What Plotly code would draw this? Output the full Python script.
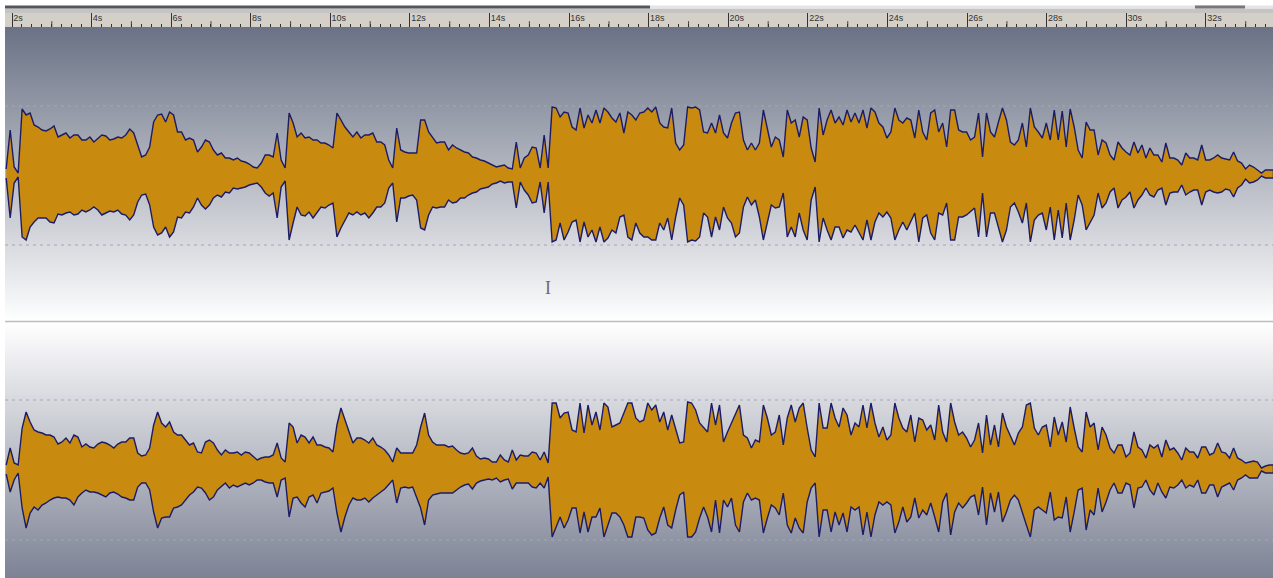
import numpy as np
import plotly.graph_objects as go

W, H = 1273, 578

# Waveform envelopes (level units, full scale = 147)
ch1_top = [
 5,44,7,1,65,59,61,49,47,44,43,45,48,37,39,41,36,39,39,34,34,37,32,36,39,38,34,35,37,36,39,45,41,29,17,19,27,52,59,60,
 52,62,59,42,42,34,36,34,22,27,34,32,24,19,21,16,16,14,16,13,12,10,7,6,11,19,19,17,41,14,6,61,51,37,41,36,37,34,34,
 31,31,29,26,61,54,47,42,37,42,36,39,39,41,32,32,29,14,6,46,24,22,21,21,21,54,54,42,37,31,32,32,24,29,26,24,22,21,17,16,
 14,13,11,9,7,8,9,6,5,32,6,16,19,27,26,6,39,6,67,66,57,62,61,47,44,66,46,59,51,64,51,66,62,56,52,61,41,62,59,54,
 61,62,66,62,67,51,47,46,66,31,24,29,67,66,67,64,42,41,51,41,59,41,36,51,61,62,34,24,31,24,31,64,44,27,37,34,17,64,51,54,
 37,57,54,26,12,66,39,54,64,51,57,49,64,52,61,51,64,46,66,62,51,47,36,42,66,54,51,56,54,36,64,42,34,61,64,42,51,27,64,64,
 44,42,42,34,37,61,17,61,42,37,52,66,54,32,29,34,51,27,66,47,42,36,51,34,64,34,63,27,65,47,24,16,52,44,44,19,34,31,19,14,
 32,26,22,19,32,21,29,16,26,19,19,12,31,16,16,14,9,21,16,16,14,29,14,14,16,19,16,15,14,22,13,11,5,9,7,4,1,4,4,4,
]
ch1_bottom = [
 4,44,9,3,63,66,53,48,44,44,44,48,49,40,41,39,38,41,40,36,38,36,33,36,41,39,37,38,36,40,41,46,41,28,21,20,31,53,61,59,
 53,63,58,43,44,38,39,33,24,31,35,31,24,21,23,18,19,14,15,14,13,11,10,9,13,19,22,19,44,13,7,66,49,33,41,42,38,44,39,
 33,34,31,29,63,54,46,39,41,38,41,39,44,39,33,33,29,14,9,48,24,24,22,21,26,54,56,41,33,34,33,33,26,29,28,24,24,21,19,18,
 15,14,13,10,9,7,9,8,8,34,8,16,21,29,28,8,39,8,68,66,49,66,58,48,46,68,48,63,56,68,53,68,64,56,59,43,41,63,66,49,
 59,63,63,66,66,49,56,44,66,43,24,31,68,66,67,63,39,43,63,43,56,33,44,49,63,59,33,23,31,26,43,66,49,31,34,33,19,63,53,63,
 39,56,66,26,13,68,44,56,66,53,53,64,56,58,51,59,66,46,66,48,39,43,38,44,66,56,48,56,48,39,68,44,41,59,66,39,41,29,66,66,
 43,43,41,38,34,63,19,63,39,39,54,68,56,33,29,38,49,29,68,46,41,39,56,33,66,36,64,29,66,46,21,31,56,48,41,19,34,29,18,14,
 34,26,23,18,34,26,21,14,21,23,16,14,31,19,18,18,11,21,18,16,16,31,18,16,18,19,18,15,16,23,14,11,5,9,8,6,2,4,4,4,
]
ch2_top = [
 5,22,7,5,42,58,48,40,38,37,35,35,33,26,28,32,27,35,33,23,26,23,22,26,28,27,25,22,26,28,28,32,32,17,14,15,22,45,58,47,
 43,48,38,35,35,30,25,27,18,17,28,30,27,20,15,20,17,17,18,15,18,17,13,10,12,13,13,15,27,12,8,47,43,27,35,33,27,33,25,
 25,23,22,18,45,62,50,38,27,32,32,30,27,32,25,23,20,15,8,22,17,17,17,17,25,43,57,35,28,25,25,25,23,24,20,17,16,17,22,14,
 11,12,11,8,8,15,10,8,20,10,15,14,14,18,17,10,18,7,67,67,52,57,58,40,38,67,37,65,45,58,40,67,63,43,45,47,57,67,67,52,
 48,50,67,60,65,48,58,40,55,42,27,28,68,67,60,47,43,38,67,45,65,28,38,47,57,65,35,32,22,30,28,65,52,35,38,55,25,52,65,48,
 62,67,42,20,13,67,42,42,67,52,43,62,55,35,47,43,65,42,67,47,33,43,30,35,67,52,42,38,55,28,52,50,40,45,30,65,38,28,67,48,
 35,38,32,23,30,47,17,55,25,45,23,57,43,33,25,37,43,65,67,42,35,43,45,23,53,35,48,28,63,42,23,18,58,43,47,20,43,35,22,17,
 25,25,13,17,38,23,20,12,25,22,25,13,30,20,22,17,10,22,18,18,12,23,23,15,17,27,18,17,12,22,12,10,7,8,9,8,2,4,5,5,
]
ch2_bottom = [
 4,22,10,3,38,58,43,37,40,35,33,30,28,27,28,28,30,35,27,23,20,22,22,23,25,27,23,22,24,27,28,30,30,17,13,13,20,42,58,48,
 47,47,38,37,35,30,25,22,17,18,23,30,27,20,17,13,18,15,17,15,13,15,13,10,10,12,13,13,27,10,8,47,28,27,33,37,27,25,33,
 23,22,21,18,43,62,47,35,28,30,30,28,32,28,25,22,19,15,10,33,18,17,18,17,27,38,55,30,25,24,23,23,23,23,20,17,15,14,19,13,
 11,10,9,10,8,12,10,9,19,13,13,13,13,17,18,13,18,7,67,58,47,58,50,38,38,63,42,62,47,47,38,67,55,43,43,47,55,67,67,47,
 47,48,60,65,63,48,37,55,58,40,25,22,67,67,62,48,37,47,62,30,63,30,37,28,55,62,32,23,30,28,30,63,48,35,38,45,23,55,63,48,
 58,63,32,18,13,67,40,40,62,42,55,43,62,37,40,37,65,42,67,45,32,35,32,35,63,52,37,52,47,28,48,40,45,33,47,62,32,23,65,42,
 33,38,33,27,25,45,17,55,23,42,22,52,42,30,25,30,42,55,67,40,37,40,43,22,50,47,48,27,62,42,20,18,60,40,45,18,42,32,20,13,
 23,23,13,15,38,18,17,10,20,25,13,22,28,17,18,15,10,18,15,17,10,23,23,15,15,27,17,15,13,20,10,8,5,8,8,8,1,3,3,3,
]
assert all(len(a) == 319 for a in (ch1_top, ch1_bottom, ch2_top, ch2_bottom))

times = np.linspace(1.854, 33.696, 319)

ruler_ticks = [2,4,6,8,10,12,14,16,18,20,22,24,26,28,30,32]
ruler_labels = ["2s","4s","6s","8s","10s","12s","14s","16s","18s","20s","22s","24s","26s","28s","30s","32s"]
mid_ticks = [3,5,7,9,11,13,15,17,19,21,23,25,27,29,31,33]
ch1_dash_levels = [68, -71]
ch2_dash_levels = [70, -70]
cursor_time, cursor_level = 15.47, -114

X_RANGE = [1.824, 33.685]
FILL = "#C98A10"
EDGE = "#1C1C66"
DARK = "#6A7285"

def py(px):
    return 1 - px / H

fig = go.Figure()

def gradient(xa, ya, levels, scale):
    fig.add_trace(go.Heatmap(x=X_RANGE, y=levels, z=[[0, 0], [1, 1]], zmin=0, zmax=1,
                             colorscale=scale, showscale=False, zsmooth="best",
                             hoverinfo="skip", xaxis=xa, yaxis=ya))

def dashes(xa, ya, levels):
    for lv in levels:
        fig.add_trace(go.Scatter(x=X_RANGE, y=[lv, lv], mode="lines", xaxis=xa, yaxis=ya,
                                 line=dict(color="#A4A7B0", width=1, dash="3px,4px"),
                                 hoverinfo="skip"))

def wave(xa, ya, top, bottom):
    xs = np.concatenate([times, times[::-1]])
    ys = np.concatenate([np.array(top), -np.array(bottom)[::-1]])
    fig.add_trace(go.Scatter(x=xs, y=ys, mode="lines", fill="toself", fillcolor=FILL,
                             line=dict(color=EDGE, width=1.4), xaxis=xa, yaxis=ya,
                             hoverinfo="skip"))

gradient("x", "y", [-147, 147], [[0, "#FFFFFF"], [1, DARK]])
gradient("x2", "y2", [148, -108], [[0, "#FFFFFF"], [1, "#7C8294"]])
dashes("x", "y", ch1_dash_levels)
dashes("x2", "y2", ch2_dash_levels)
wave("x", "y", ch1_top, ch1_bottom)
wave("x2", "y2", ch2_top, ch2_bottom)

# ruler
mid_x, mid_y = [], []
for t in mid_ticks:
    mid_x += [t, t, None]
    mid_y += [0, 0.42, None]
fig.add_trace(go.Scatter(x=mid_x, y=mid_y, mode="lines", line=dict(color="#444444", width=1),
                         xaxis="x3", yaxis="y3", hoverinfo="skip"))
fig.add_trace(go.Scatter(x=[t + 0.03 for t in ruler_ticks], y=[0.62] * len(ruler_ticks),
                         text=ruler_labels, mode="text", textposition="middle right",
                         textfont=dict(family="Liberation Sans", size=9, color="#333333"),
                         xaxis="x3", yaxis="y3", hoverinfo="skip"))

fig.add_annotation(x=cursor_time, y=cursor_level, xref="x", yref="y", text="I", showarrow=False,
                   font=dict(family="Liberation Serif", size=18, color="#6A6A6A"))

x_common = dict(range=X_RANGE, domain=[5 / W, 1], showgrid=False, zeroline=False, showline=False)
fig.update_layout(
    width=W, height=H, margin=dict(l=0, r=0, t=0, b=0), autosize=False,
    paper_bgcolor="#FFFFFF", plot_bgcolor="#D4D0C8", showlegend=False,
    xaxis=dict(x_common, anchor="y", showticklabels=False, ticks=""),
    yaxis=dict(domain=[py(321), py(27)], range=[-147, 147], showgrid=False, zeroline=False,
               showticklabels=False, ticks="", anchor="x"),
    xaxis2=dict(x_common, anchor="y2", showticklabels=False, ticks=""),
    yaxis2=dict(domain=[0, py(322)], range=[-108, 148], showgrid=False, zeroline=False,
                showticklabels=False, ticks="", anchor="x2"),
    xaxis3=dict(x_common, anchor="y3", showticklabels=False, ticks="inside",
                tick0=2, dtick=2, ticklen=14, tickcolor="#333333", tickwidth=1,
                minor=dict(ticks="inside", dtick=0.25, ticklen=3, tickcolor="#333333", tickwidth=1)),
    yaxis3=dict(domain=[py(27), py(13)], range=[0, 1], showgrid=False, zeroline=False,
                showticklabels=False, ticks="", anchor="x3"),
    shapes=[
        dict(type="rect", xref="paper", yref="paper", x0=5 / W, x1=1, y0=py(13), y1=py(8.5),
             fillcolor="#C4C4C4", line_width=0),
        dict(type="rect", xref="paper", yref="paper", x0=5 / W, x1=650 / W, y0=py(8.5), y1=py(5.5),
             fillcolor="#55565A", line_width=0),
        dict(type="rect", xref="paper", yref="paper", x0=650 / W, x1=1, y0=py(8.5), y1=py(5.5),
             fillcolor="#E4E4E4", line_width=0),
        dict(type="rect", xref="paper", yref="paper", x0=1195 / W, x1=1245 / W, y0=py(8.5), y1=py(5.5),
             fillcolor="#777777", line_width=0),
        dict(type="line", xref="paper", yref="paper", x0=5 / W, x1=1, y0=py(321.5), y1=py(321.5),
             line=dict(color="#BDBDBD", width=1.6)),
    ],
)

fig.write_html("out.html", config={"displayModeBar": False, "responsive": False},
               post_script="document.body.style.margin='0';document.body.style.overflow='hidden';")
